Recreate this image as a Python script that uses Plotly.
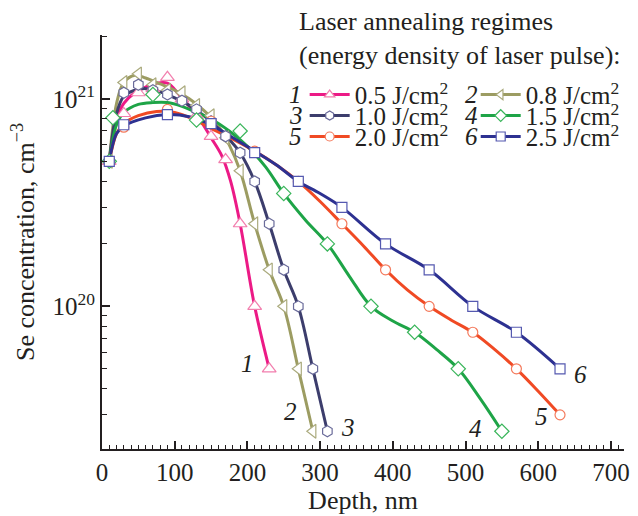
import math
import plotly.graph_objects as go

# ---------------- data ----------------
labels = ["0.5 J/cm<sup>2</sup>", "0.8 J/cm<sup>2</sup>", "1.0 J/cm<sup>2</sup>",
          "1.5 J/cm<sup>2</sup>", "2.0 J/cm<sup>2</sup>", "2.5 J/cm<sup>2</sup>"]
numbers = ["1", "2", "3", "4", "5", "6"]

# measured points (markers)
mx1 = [10, 30, 50, 70, 90, 110, 130, 150, 170, 190, 210, 230]
my1 = [5.0e20, 8.5e20, 1.07e21, 1.12e21, 1.27e21, 1.0e21, 8.3e20, 6.6e20, 5.1e20, 2.5e20, 1.0e20, 5.0e19]
mx2 = [10, 30, 50, 70, 90, 110, 130, 150, 170, 190, 210, 230, 250, 270, 290]
my2 = [5.0e20, 1.2e21, 1.32e21, 1.17e21, 1.1e21, 1.07e21, 9.3e20, 8.3e20, 6.5e20, 4.5e20, 2.5e20, 1.5e20, 1.0e20, 5.0e19, 2.5e19]
mx3 = [10, 30, 50, 70, 90, 110, 130, 150, 170, 190, 210, 230, 250, 270, 290, 310]
my3 = [5.0e20, 1.07e21, 1.17e21, 1.1e21, 1.05e21, 9.8e20, 8.9e20, 7.8e20, 6.6e20, 5.5e20, 4.0e20, 2.5e20, 1.5e20, 1.0e20, 5.0e19, 2.5e19]
mx4 = [10, 15, 70, 130, 190, 250, 310, 370, 430, 490, 550]
my4 = [5.0e20, 8.1e20, 1.05e21, 7.9e20, 7.0e20, 3.5e20, 2.0e20, 1.0e20, 7.5e19, 5.0e19, 2.5e19]
mx5 = [10, 30, 90, 150, 210, 270, 330, 390, 450, 510, 570, 630]
my5 = [5.0e20, 7.3e20, 8.9e20, 7.8e20, 5.6e20, 4.0e20, 2.5e20, 1.5e20, 1.0e20, 7.5e19, 5.0e19, 3.0e19]
mx6 = [10, 30, 90, 150, 210, 270, 330, 390, 450, 510, 570, 630]
my6 = [5.0e20, 7.5e20, 8.4e20, 7.6e20, 5.5e20, 4.0e20, 3.0e20, 2.0e20, 1.5e20, 1.0e20, 7.5e19, 5.0e19]

# smoothed profile curves
cx1 = [10, 20, 30, 45, 60, 75, 90, 105, 120, 135, 150, 165, 177, 190, 210, 230]
cy1 = [5.0e20, 8.0e20, 9.5e20, 1.07e21, 1.14e21, 1.19e21, 1.19e21, 1.06e21, 9.2e20, 7.9e20, 6.5e20, 5.3e20, 4.0e20, 2.5e20, 1.0e20, 5.0e19]
cx2 = [10, 20, 30, 45, 60, 80, 100, 120, 140, 160, 175, 190, 210, 230, 250, 270, 290]
cy2 = [5.0e20, 9.5e20, 1.2e21, 1.3e21, 1.26e21, 1.18e21, 1.1e21, 1.0e21, 8.8e20, 7.4e20, 6.0e20, 4.5e20, 2.5e20, 1.5e20, 1.0e20, 5.0e19, 2.5e19]
cx3 = [10, 20, 30, 45, 60, 80, 100, 120, 140, 160, 180, 190, 210, 230, 250, 270, 290, 310]
cy3 = [5.0e20, 8.5e20, 1.03e21, 1.1e21, 1.12e21, 1.08e21, 1.01e21, 9.3e20, 8.3e20, 7.2e20, 6.1e20, 5.5e20, 4.0e20, 2.5e20, 1.5e20, 1.0e20, 5.0e19, 2.5e19]
cx4 = [10, 20, 30, 50, 70, 90, 110, 130, 150, 175, 200, 225, 250, 280, 310, 340, 370, 400, 430, 460, 490, 520, 550]
cy4 = [5.0e20, 7.5e20, 8.6e20, 9.4e20, 9.6e20, 9.6e20, 9.2e20, 8.6e20, 8.0e20, 7.0e20, 5.9e20, 4.7e20, 3.5e20, 2.6e20, 2.0e20, 1.4e20, 1.0e20, 8.5e19, 7.5e19, 6.2e19, 5.0e19, 3.6e19, 2.5e19]
cx5 = [10, 20, 30, 50, 75, 100, 125, 150, 180, 210, 240, 270, 300, 330, 360, 390, 420, 450, 480, 510, 540, 570, 600, 630]
cy5 = [5.0e20, 6.8e20, 7.6e20, 8.3e20, 8.7e20, 8.6e20, 8.0e20, 7.2e20, 6.4e20, 5.6e20, 4.8e20, 4.0e20, 3.2e20, 2.5e20, 1.95e20, 1.5e20, 1.2e20, 1.0e20, 8.6e19, 7.5e19, 6.2e19, 5.0e19, 3.9e19, 3.0e19]
cx6 = [10, 20, 30, 60, 90, 120, 150, 180, 210, 240, 270, 300, 330, 390, 450, 510, 570, 630]
cy6 = [5.0e20, 6.8e20, 7.4e20, 8.1e20, 8.4e20, 8.2e20, 7.5e20, 6.5e20, 5.6e20, 4.8e20, 4.0e20, 3.5e20, 3.0e20, 2.0e20, 1.5e20, 1.0e20, 7.5e19, 5.0e19]

# curve-number label positions (nm, concentration)
num_x = [200, 259, 339, 514, 605, 658]
num_y = [5.3e19, 3.1e19, 2.6e19, 2.57e19, 2.95e19, 4.7e19]

x_ticks = [0, 100, 200, 300, 400, 500, 600, 700]
y_ticks = [1e20, 1e21]
y_ticktext = ["10<sup>20</sup>", "10<sup>21</sup>"]
y_minor = [k * 1e19 for k in range(2, 10)] + [k * 1e20 for k in range(2, 10)] + [2e21]

# ---------------- style ----------------
colors = ["#EC1A86", "#9C9C62", "#3C3D6C", "#1EA447", "#F04A24", "#2D3191"]
mcolors = ["#F27FAE", "#ABAB7E", "#6A6B9A", "#39B55A", "#F47A5C", "#5559B0"]
symbols = ["triangle-up", "triangle-left", "hexagon", "diamond", "circle", "square"]
msizes = [12, 12, 11, 11, 10, 10]
FONT = "Liberation Serif"
TXT = "#231F20"

MX = [mx1, mx2, mx3, mx4, mx5, mx6]
MY = [my1, my2, my3, my4, my5, my6]
CX = [cx1, cx2, cx3, cx4, cx5, cx6]
CY = [cy1, cy2, cy3, cy4, cy5, cy6]

fig = go.Figure()

for i in range(6):
    fig.add_trace(go.Scatter(
        x=CX[i], y=CY[i], mode="lines",
        line=dict(color=colors[i], width=3, shape="spline", smoothing=1.0),
        showlegend=False, hoverinfo="skip"))

for i in range(6):
    fig.add_trace(go.Scatter(
        x=MX[i], y=MY[i], mode="markers",
        marker=dict(symbol=symbols[i], size=msizes[i], color="white",
                    line=dict(color=mcolors[i], width=1.2)),
        showlegend=False))

# legend entries (one legend per entry for exact placement)
legend_names = ["legend", "legend2", "legend3", "legend4", "legend5", "legend6"]
for i in range(6):
    fig.add_trace(go.Scatter(
        x=[None], y=[None], mode="lines+markers", name=labels[i],
        line=dict(color=colors[i], width=3),
        marker=dict(symbol=symbols[i], size=9, color="white",
                    line=dict(color=mcolors[i], width=1.2)),
        legend=legend_names[i], showlegend=True))

# plot area in pixels: x 102..630, y 35..450
L, R, T, B = 102, 8, 35, 66
W, H = 638, 516
pw, ph = W - L - R, H - T - B

def px_x(p):
    return (p - L) / pw

def px_y(p):
    return (H - B - p) / ph

row_y = [95, 95, 116, 116, 137, 137]
col_line = [312, 485, 312, 485, 312, 485]
col_num = [298, 476, 298, 476, 298, 476]

layout_legends = {}
for i in range(6):
    layout_legends[legend_names[i]] = dict(
        x=px_x(col_line[i] - 5), y=px_y(row_y[i]), xanchor="left", yanchor="middle",
        bgcolor="rgba(0,0,0,0)", borderwidth=0,
        font=dict(family=FONT, size=25, color=TXT),
        itemwidth=40, orientation="v", tracegroupgap=0)

annotations = []
for i in range(6):
    annotations.append(dict(
        x=px_x(col_num[i]), y=px_y(row_y[i]), xref="paper", yref="paper",
        text="<i>" + numbers[i] + "</i>", showarrow=False,
        font=dict(family=FONT, size=25, color=TXT),
        xanchor="center", yanchor="middle"))

annotations.append(dict(
    x=px_x(299), y=px_y(5), xref="paper", yref="paper",
    text="Laser annealing regimes<br>(energy density of laser pulse):",
    align="left", showarrow=False, xanchor="left", yanchor="top",
    font=dict(family=FONT, size=26, color=TXT)))

for i in range(6):
    annotations.append(dict(
        x=num_x[i], y=math.log10(num_y[i]), xref="x", yref="y",
        text="<i>" + numbers[i] + "</i>", showarrow=False,
        font=dict(family=FONT, size=25, color=TXT),
        xanchor="center", yanchor="middle"))

fig.update_layout(
    width=W, height=H,
    margin=dict(l=L, r=R, t=T, b=B, pad=0),
    paper_bgcolor="white", plot_bgcolor="white",
    font=dict(family=FONT, size=25, color=TXT),
    annotations=annotations,
    **layout_legends,
)

fig.update_xaxes(
    range=[0, 718], tickvals=x_ticks, ticks="inside", ticklen=8, tickwidth=1.5,
    tickcolor=TXT,
    minor=dict(ticks="inside", ticklen=4, tickwidth=1, dtick=10, tick0=0, tickcolor=TXT),
    showline=True, linewidth=2, linecolor=TXT, showgrid=False, zeroline=False,
    tickfont=dict(family=FONT, size=25, color=TXT),
    title=dict(text="Depth, nm", font=dict(family=FONT, size=26, color=TXT), standoff=4))

fig.update_yaxes(
    type="log", range=[19.3125, 21.3077], tickvals=y_ticks, ticktext=y_ticktext,
    ticks="inside", ticklen=8, tickwidth=1.5, tickcolor=TXT,
    minor=dict(ticks="inside", ticklen=5, tickwidth=1, tickvals=y_minor, tickcolor=TXT),
    showline=True, linewidth=2, linecolor=TXT, showgrid=False, zeroline=False,
    tickfont=dict(family=FONT, size=25, color=TXT),
    title=dict(text="Se concentration, cm<sup>\u22123</sup>", font=dict(family=FONT, size=26, color=TXT), standoff=10))

fig.write_html("out.html")
